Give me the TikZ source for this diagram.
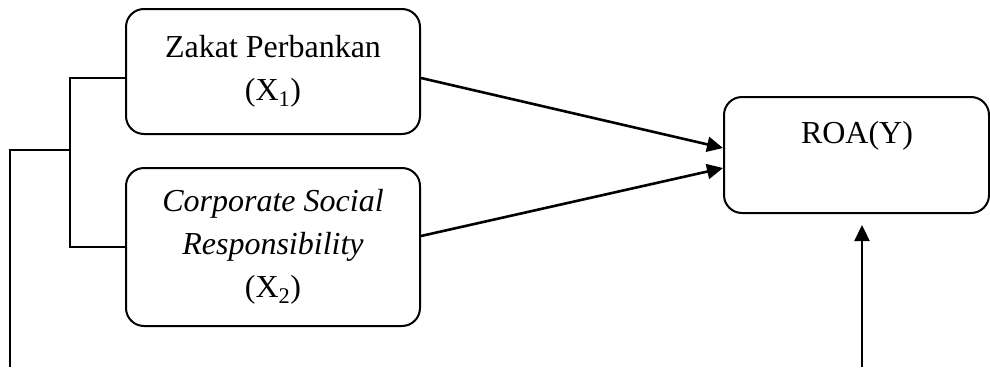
\documentclass[tikz,border=0pt]{standalone}
\usepackage{fontspec}
\setmainfont{Liberation Serif}
\usetikzlibrary{arrows.meta,calc}
\begin{document}
\begin{tikzpicture}[x=1pt,y=1pt,
  box/.style={draw,line width=2pt,rounded corners=18pt,inner sep=0pt},
  txt/.style={font=\fontsize{32}{43}\selectfont,align=center},
  arr/.style={line width=2.6pt,-{Triangle[length=16pt,width=15pt]}},
  brk/.style={line width=1.4pt}]
\useasboundingbox (0,0) rectangle (990,-367);
\node[box,txt,minimum width=294pt,minimum height=125pt] (z) at (273,-71.5) {Zakat Perbankan\\(X\textsubscript{1})};
\node[box,txt,minimum width=294pt,minimum height=158pt] (csr) at (273,-247) {\textit{Corporate Social}\\\textit{Responsibility}\\(X\textsubscript{2})};
\node[box,minimum width=265pt,minimum height=116pt] (roa) at (856.5,-155) {};
\node[txt,anchor=base] (roat) at (857,-143) {ROA(Y)};
\coordinate (bx) at (70,-150);
\coordinate (bl) at (10,-150);
\coordinate (bb) at (10,-367);
\coordinate (vb) at (862,-367);
\draw[arr] ($(z.east)+(0,-6.5)$) -- ($(roa.west)+(0,7)$);
\draw[arr] ($(csr.east)+(0,11)$) -- ($(roa.west)+(0,-13)$);
\draw[arr,line width=2.3pt] (vb) -- ($(roa.south)+(5.5,-11)$);
\draw[brk] ($(z.west)+(0,-6.5)$) -- (70,-78) -- (70,-247) -- (csr.west);
\draw[brk] (bx) -- (bl) -- (bb);
\end{tikzpicture}
\end{document}
